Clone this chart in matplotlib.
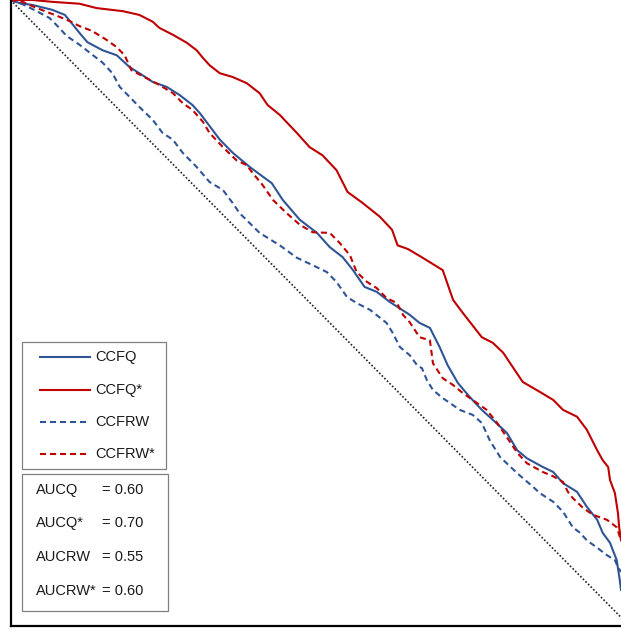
import matplotlib
matplotlib.use("Agg")
import matplotlib.pyplot as plt
from matplotlib.patches import Rectangle
from matplotlib.lines import Line2D

plt.rcParams['font.family'] = ['Liberation Sans', 'DejaVu Sans']

# ---- data ----
ccfq_x = [0.0, 0.015, 0.036, 0.069, 0.089, 0.100, 0.113, 0.126, 0.151, 0.174, 0.195, 0.216, 0.233, 0.256,
          0.277, 0.298, 0.310, 0.343, 0.364, 0.392, 0.428, 0.446, 0.474, 0.502, 0.523, 0.544, 0.561, 0.580,
          0.600, 0.621, 0.654, 0.670, 0.687, 0.703, 0.716, 0.733, 0.752, 0.772, 0.790, 0.813, 0.830, 0.846,
          0.872, 0.889, 0.905, 0.928, 0.944, 0.961, 0.970, 0.982, 0.993, 0.998, 1.0]
ccfq_y = [1.0, 0.995, 0.992, 0.984, 0.976, 0.963, 0.947, 0.932, 0.919, 0.911, 0.892, 0.879, 0.868, 0.860,
          0.847, 0.831, 0.818, 0.775, 0.754, 0.731, 0.705, 0.678, 0.646, 0.625, 0.602, 0.586, 0.565, 0.538,
          0.530, 0.514, 0.493, 0.480, 0.472, 0.441, 0.412, 0.383, 0.361, 0.340, 0.324, 0.303, 0.275, 0.262,
          0.248, 0.240, 0.222, 0.208, 0.184, 0.163, 0.142, 0.126, 0.098, 0.066, 0.050]

ccfq_star_x = [0.0, 0.036, 0.069, 0.113, 0.141, 0.184, 0.211, 0.233, 0.244, 0.266, 0.289, 0.305, 0.315, 0.326,
               0.343, 0.364, 0.387, 0.408, 0.421, 0.441, 0.469, 0.490, 0.511, 0.534, 0.552, 0.577, 0.605, 0.625,
               0.634, 0.651, 0.675, 0.708, 0.725, 0.741, 0.772, 0.790, 0.807, 0.839, 0.867, 0.889, 0.905, 0.928,
               0.944, 0.961, 0.970, 0.979, 0.982, 0.990, 0.995, 0.997, 1.0]
ccfq_star_y = [1.0, 1.0, 0.997, 0.994, 0.987, 0.982, 0.976, 0.965, 0.955, 0.944, 0.931, 0.919, 0.907, 0.895,
               0.882, 0.876, 0.866, 0.850, 0.831, 0.815, 0.786, 0.763, 0.750, 0.726, 0.691, 0.673, 0.651, 0.630,
               0.605, 0.599, 0.585, 0.565, 0.517, 0.496, 0.457, 0.448, 0.432, 0.385, 0.369, 0.356, 0.340, 0.329,
               0.308, 0.275, 0.259, 0.248, 0.227, 0.206, 0.174, 0.151, 0.130]

ccfrw_x = [0.0, 0.018, 0.039, 0.064, 0.080, 0.092, 0.113, 0.130, 0.151, 0.167, 0.179, 0.195, 0.216, 0.233,
           0.249, 0.266, 0.282, 0.305, 0.326, 0.348, 0.364, 0.375, 0.408, 0.441, 0.469, 0.495, 0.518, 0.534,
           0.551, 0.567, 0.589, 0.616, 0.626, 0.638, 0.654, 0.666, 0.674, 0.682, 0.692, 0.708, 0.736, 0.757,
           0.772, 0.785, 0.802, 0.830, 0.856, 0.867, 0.889, 0.905, 0.921, 0.933, 0.944, 0.961, 0.977, 0.990,
           0.995, 1.0]
ccfrw_y = [1.0, 0.994, 0.984, 0.971, 0.955, 0.942, 0.928, 0.915, 0.899, 0.882, 0.860, 0.844, 0.823, 0.807,
           0.786, 0.775, 0.754, 0.731, 0.707, 0.694, 0.673, 0.657, 0.625, 0.605, 0.585, 0.573, 0.562, 0.546,
           0.522, 0.512, 0.501, 0.480, 0.464, 0.441, 0.428, 0.412, 0.407, 0.388, 0.372, 0.359, 0.340, 0.332,
           0.319, 0.291, 0.264, 0.238, 0.216, 0.206, 0.192, 0.176, 0.151, 0.142, 0.130, 0.118, 0.106, 0.098,
           0.087, 0.079]

ccfrw_star_x = [0.0, 0.020, 0.036, 0.059, 0.080, 0.097, 0.113, 0.134, 0.157, 0.174, 0.187, 0.198, 0.223, 0.244,
                0.266, 0.282, 0.298, 0.315, 0.326, 0.348, 0.370, 0.387, 0.397, 0.413, 0.430, 0.452, 0.474, 0.495,
                0.523, 0.539, 0.556, 0.567, 0.584, 0.600, 0.616, 0.633, 0.643, 0.654, 0.670, 0.687, 0.692, 0.708,
                0.725, 0.741, 0.757, 0.780, 0.797, 0.813, 0.830, 0.846, 0.872, 0.889, 0.905, 0.913, 0.921, 0.938,
                0.954, 0.977, 0.993, 1.0]
ccfrw_star_y = [1.0, 0.997, 0.990, 0.981, 0.973, 0.966, 0.958, 0.950, 0.936, 0.924, 0.911, 0.887, 0.874, 0.863,
                0.850, 0.834, 0.823, 0.804, 0.786, 0.763, 0.742, 0.734, 0.721, 0.702, 0.678, 0.657, 0.638, 0.626,
                0.625, 0.609, 0.589, 0.562, 0.546, 0.536, 0.520, 0.512, 0.493, 0.481, 0.457, 0.452, 0.415, 0.391,
                0.380, 0.367, 0.356, 0.340, 0.319, 0.296, 0.271, 0.254, 0.240, 0.233, 0.224, 0.208, 0.198, 0.182,
                0.171, 0.163, 0.151, 0.130]

diag_x = [0.0, 1.0]
diag_y = [1.0, 0.006]

series_labels = ["CCFQ", "CCFQ*", "CCFRW", "CCFRW*"]
auc_labels = ["AUCQ", "AUCQ*", "AUCRW", "AUCRW*"]
auc_values = [0.60, 0.70, 0.55, 0.60]

# ---- styles ----
BLUE = "#2F5597"
RED = "#C00000"
DASH = (0, (2.9, 1.9))
styles = [(BLUE, "-"), (RED, "-"), (BLUE, DASH), (RED, DASH)]

W, H = 621, 630
fig = plt.figure(figsize=(W / 100, H / 100), dpi=100)
ax = fig.add_axes([10.5 / W, 4 / H, (W - 10.5) / W, 626 / H])

ax.plot(diag_x, diag_y, color="#222222", lw=1.2, linestyle=(0, (1, 1.2)))
for (xs, ys), (c, ls) in zip([(ccfq_x, ccfq_y), (ccfq_star_x, ccfq_star_y),
                              (ccfrw_x, ccfrw_y), (ccfrw_star_x, ccfrw_star_y)], styles):
    ax.plot(xs, ys, color=c, lw=1.5, linestyle=ls, solid_joinstyle="round")

ax.set_xlim(0, 1)
ax.set_ylim(-0.008, 1)
ax.set_xticks([])
ax.set_yticks([])
for s in ["top", "right"]:
    ax.spines[s].set_visible(False)
for s in ["left", "bottom"]:
    ax.spines[s].set_linewidth(1.6)
    ax.spines[s].set_color("black")


def fx(px):
    return px / W


def fy(py):
    return 1 - py / H


# legend box 1
fig.patches.append(Rectangle((fx(22), fy(469)), (166 - 22) / W, (469 - 342) / H,
                             transform=fig.transFigure, fill=False, edgecolor="#808080", lw=0.9))
legend_rows = [357, 390, 422, 454]
for lab, (c, ls), yy in zip(series_labels, styles, legend_rows):
    fig.lines.append(Line2D([fx(40), fx(90)], [fy(yy), fy(yy)], transform=fig.transFigure,
                            color=c, lw=1.5, linestyle=ls))
    fig.text(fx(95), fy(yy), lab, fontsize=10.5, va="center", ha="left", color="#1a1a1a")

# AUC box
fig.patches.append(Rectangle((fx(22), fy(611)), (168 - 22) / W, (611 - 474) / H,
                             transform=fig.transFigure, fill=False, edgecolor="#808080", lw=0.9))
auc_rows = [490, 523, 557, 591]
for lab, v, yy in zip(auc_labels, auc_values, auc_rows):
    fig.text(fx(36), fy(yy), lab, fontsize=10.5, va="center", ha="left", color="#1a1a1a")
    fig.text(fx(102), fy(yy), f"= {v:.2f}", fontsize=10.5, va="center", ha="left", color="#1a1a1a")

fig.savefig("out.png", dpi=100)
